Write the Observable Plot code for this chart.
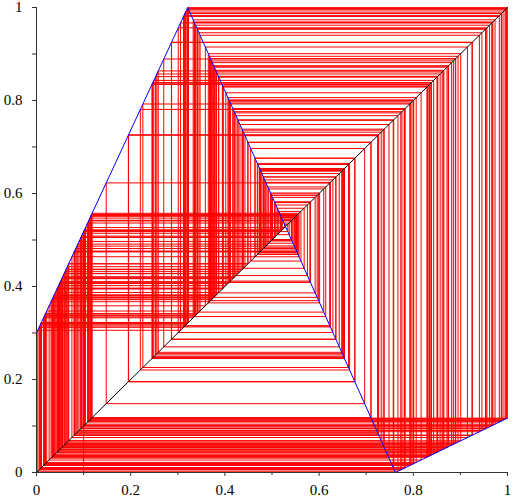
<!DOCTYPE html>
<html><head><meta charset="utf-8">
<script src="https://cdn.jsdelivr.net/npm/d3@7"></script>
<script src="https://cdn.jsdelivr.net/npm/@observablehq/plot@0.6"></script>
<style>body{margin:0;background:#fff}</style></head>
<body><div id="chart"></div>
<script>
// piecewise-linear map (blue) breakpoints
const mapX = [0, 0.321, 0.762, 1];
const mapY = [0.3, 1, 0, 0.117];
// cobweb start and length
const x0 = 0.1;
const iterations = 300;
const majorTicks = [0, 0.2, 0.4, 0.6, 0.8, 1];
const minorTicks = [0.1, 0.3, 0.5, 0.7, 0.9];
const diagX = [0, 1];
const diagY = [0, 1];

function f(x) {
  for (let i = 0; i < mapX.length - 1; i++) {
    if (x <= mapX[i + 1]) {
      const t = (x - mapX[i]) / (mapX[i + 1] - mapX[i]);
      return mapY[i] + t * (mapY[i + 1] - mapY[i]);
    }
  }
  return mapY[mapY.length - 1];
}
const segs = [];
let x = x0;
for (let n = 0; n < iterations; n++) {
  const fx = f(x);
  segs.push({x1: x, y1: n === 0 ? 0 : x, x2: x, y2: fx});
  segs.push({x1: x, y1: fx, x2: fx, y2: fx});
  x = fx;
}
const mapPts = mapX.map((v, i) => ({x: v, y: mapY[i]}));
const diagPts = diagX.map((v, i) => ({x: v, y: diagY[i]}));

const font = "'Liberation Serif', 'DejaVu Serif', serif";
const chart = Plot.plot({
  width: 514, height: 502,
  marginLeft: 36, marginRight: 7, marginTop: 7, marginBottom: 30,
  x: {domain: [0, 1]},
  y: {domain: [0, 1]},
  style: {fontFamily: font, fontSize: "15px", background: "#fff", color: "#000"},
  marks: [
    Plot.link(segs, {x1: "x1", y1: "y1", x2: "x2", y2: "y2", stroke: "#ff0000", strokeWidth: 1}),
    Plot.line(diagPts, {x: "x", y: "y", stroke: "#000", strokeWidth: 1}),
    Plot.line(mapPts, {x: "x", y: "y", stroke: "#0000ff", strokeWidth: 1}),
    Plot.ruleY([0], {stroke: "#333"}),
    Plot.ruleX([0], {stroke: "#333"}),
    Plot.axisX(majorTicks, {tickSize: 4, tickPadding: 8, fontSize: 15, tickFormat: d => String(d), label: null, stroke: "#333"}),
    Plot.axisX(minorTicks, {tickSize: 3, text: null, label: null, stroke: "#333"}),
    Plot.axisY(majorTicks, {tickSize: 4, tickPadding: 10, fontSize: 15, tickFormat: d => String(d), label: null, stroke: "#333"}),
    Plot.axisY(minorTicks, {tickSize: 4, text: null, label: null, stroke: "#333"})
  ]
});
document.getElementById("chart").appendChild(chart);
</script></body></html>
